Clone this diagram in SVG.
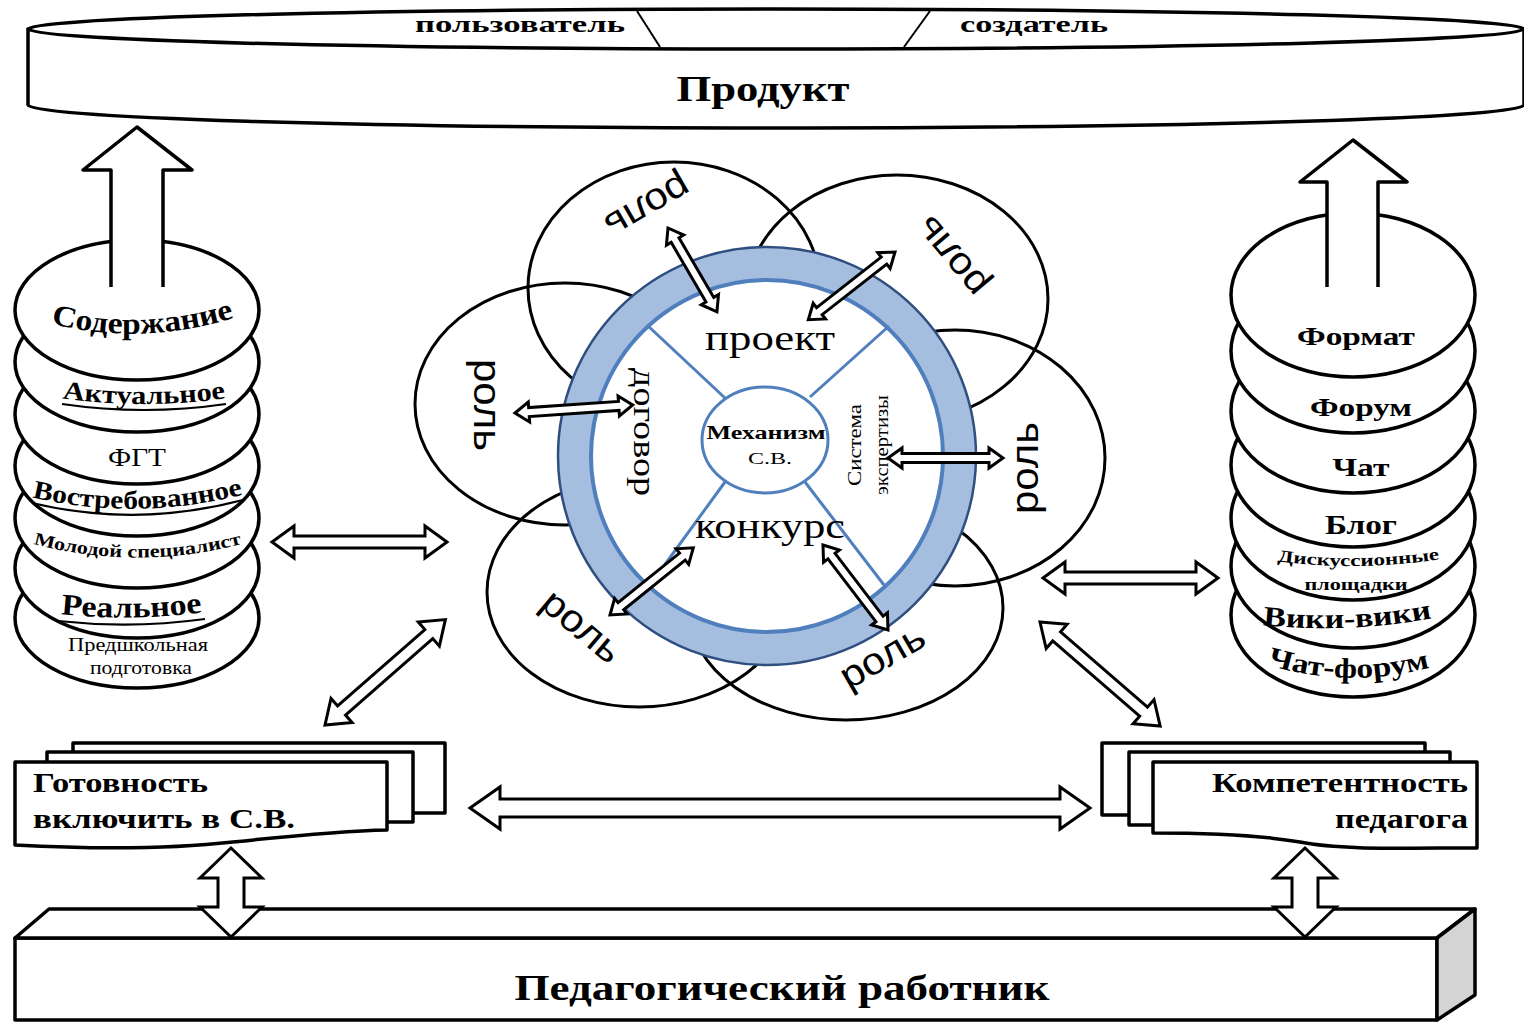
<svg xmlns="http://www.w3.org/2000/svg" width="1524" height="1027" viewBox="0 0 1524 1027">
<defs>
<style>
.ol{fill:#fff;stroke:#000;stroke-width:3.5;stroke-linejoin:round}
.pet{fill:none;stroke:#000;stroke-width:3}
.arr{fill:#fff;stroke:#000;stroke-width:3;stroke-linejoin:miter}
.ln{fill:none;stroke:#000;stroke-width:2}
.ul{fill:none;stroke:#000;stroke-width:2.2}
.sb{font-family:"Liberation Serif","Times New Roman",serif;font-weight:bold;fill:#000}
.sr{font-family:"Liberation Serif","Times New Roman",serif;fill:#000}
.ss{font-family:"Liberation Sans",Arial,sans-serif;fill:#000}
.spk{stroke:#4f7fbd;stroke-width:3;fill:none}
</style>
<path id="l0" d="M45,322 Q140,348 240,316"/>
<path id="l1" d="M60,398 Q144,410 228,398"/>
<path id="l3" d="M30,497 Q137,522 245,494"/>
<path id="l4" d="M30,543 Q137,572 245,543"/>
<path id="l5" d="M58,614 Q132,622 205,612"/>
<path id="r4" d="M1276,561 Q1358,572 1441,559"/>
<path id="r6" d="M1262,625 Q1347,634 1433,618"/>
<path id="r7" d="M1265,664 Q1348,690 1432,667"/>
</defs>
<rect width="1524" height="1027" fill="#fff"/>

<g id="product">
<path class="ol" d="M28,29 V105 A748,23 0 0 0 1524,105 V29 Z"/>
<ellipse class="ol" cx="776" cy="29" rx="748" ry="20"/>
<line class="ln" x1="637" y1="11" x2="660" y2="47"/>
<line class="ln" x1="930" y1="11" x2="904" y2="47"/>
<text class="sb" x="520" y="32" font-size="24" text-anchor="middle" textLength="210" lengthAdjust="spacingAndGlyphs">пользователь</text>
<text class="sb" x="1034" y="32" font-size="24" text-anchor="middle" textLength="148" lengthAdjust="spacingAndGlyphs">создатель</text>
<text class="sb" x="763" y="101" font-size="36" text-anchor="middle" textLength="173" lengthAdjust="spacingAndGlyphs">Продукт</text>
</g>

<g id="content-stack">
<ellipse class="ol" cx="137" cy="618" rx="122" ry="70"/>
<ellipse class="ol" cx="137" cy="568" rx="122" ry="70"/>
<ellipse class="ol" cx="137" cy="518" rx="122" ry="70"/>
<ellipse class="ol" cx="137" cy="466" rx="122" ry="70"/>
<ellipse class="ol" cx="137" cy="414" rx="122" ry="70"/>
<ellipse class="ol" cx="137" cy="362" rx="122" ry="70"/>
<ellipse class="ol" cx="137" cy="310" rx="122" ry="70"/>
<path class="ol" d="M111,287 V170 H83 L137,127 L192,170 H163 V287"/>
<text class="sb" font-size="30"><textPath href="#l0" startOffset="50%" text-anchor="middle" textLength="186" lengthAdjust="spacingAndGlyphs">Содержание</textPath></text>
<text class="sb" font-size="26"><textPath href="#l1" startOffset="50%" text-anchor="middle" textLength="164" lengthAdjust="spacingAndGlyphs">Актуальное</textPath></text>
<path class="ul" d="M62,404 Q144,416 226,404"/>
<text class="sr" x="137" y="466" font-size="26" text-anchor="middle" textLength="58" lengthAdjust="spacingAndGlyphs">ФГТ</text>
<text class="sb" font-size="26"><textPath href="#l3" startOffset="50%" text-anchor="middle" textLength="213" lengthAdjust="spacingAndGlyphs">Востребованное</textPath></text>
<path class="ul" d="M32,503 Q137,528 243,500"/>
<text class="sb" font-size="18"><textPath href="#l4" startOffset="50%" text-anchor="middle" textLength="211" lengthAdjust="spacingAndGlyphs">Молодой специалист</textPath></text>
<text class="sb" font-size="30"><textPath href="#l5" startOffset="50%" text-anchor="middle" textLength="142" lengthAdjust="spacingAndGlyphs">Реальное</textPath></text>
<path class="ul" d="M58,621 Q132,629 205,619"/>
<text class="sr" x="138" y="651" font-size="19" text-anchor="middle" textLength="140" lengthAdjust="spacingAndGlyphs">Предшкольная</text>
<text class="sr" x="141" y="674" font-size="19" text-anchor="middle" textLength="102" lengthAdjust="spacingAndGlyphs">подготовка</text>
</g>

<g id="format-stack">
<ellipse class="ol" cx="1353" cy="615" rx="122" ry="82"/>
<ellipse class="ol" cx="1353" cy="566" rx="122" ry="82"/>
<ellipse class="ol" cx="1353" cy="518" rx="122" ry="82"/>
<ellipse class="ol" cx="1353" cy="465" rx="122" ry="82"/>
<ellipse class="ol" cx="1353" cy="411" rx="122" ry="82"/>
<ellipse class="ol" cx="1353" cy="351" rx="122" ry="82"/>
<ellipse class="ol" cx="1353" cy="295" rx="122" ry="82"/>
<path class="ol" d="M1327,287 V182 H1300 L1353,140 L1407,182 H1378 V287"/>
<text class="sb" x="1356" y="345" font-size="26" text-anchor="middle" textLength="118" lengthAdjust="spacingAndGlyphs">Формат</text>
<text class="sb" x="1361" y="416" font-size="26" text-anchor="middle" textLength="102" lengthAdjust="spacingAndGlyphs">Форум</text>
<text class="sb" x="1361" y="476" font-size="26" text-anchor="middle" textLength="57" lengthAdjust="spacingAndGlyphs">Чат</text>
<text class="sb" x="1361" y="534" font-size="28" text-anchor="middle" textLength="72" lengthAdjust="spacingAndGlyphs">Блог</text>
<text class="sb" font-size="17"><textPath href="#r4" startOffset="50%" text-anchor="middle" textLength="163" lengthAdjust="spacingAndGlyphs">Дискуссионные</textPath></text>
<text class="sb" x="1356" y="590" font-size="17" text-anchor="middle" textLength="103" lengthAdjust="spacingAndGlyphs">площадки</text>
<text class="sb" font-size="28"><textPath href="#r6" startOffset="50%" text-anchor="middle" textLength="170" lengthAdjust="spacingAndGlyphs">Вики-вики</textPath></text>
<text class="sb" font-size="28"><textPath href="#r7" startOffset="50%" text-anchor="middle" textLength="165" lengthAdjust="spacingAndGlyphs">Чат-форум</textPath></text>
</g>

<g id="roles">
<ellipse class="pet" cx="674" cy="288" rx="146" ry="126"/>
<ellipse class="pet" cx="897" cy="299" rx="151" ry="124"/>
<ellipse class="pet" cx="565" cy="404" rx="150" ry="121"/>
<ellipse class="pet" cx="955" cy="458" rx="150" ry="128"/>
<ellipse class="pet" cx="639" cy="592" rx="152" ry="115"/>
<ellipse class="pet" cx="846" cy="608" rx="157" ry="112"/>
<g class="ss" font-size="38" text-anchor="middle" dominant-baseline="central">
<text transform="translate(648,207) rotate(150)" textLength="92" lengthAdjust="spacingAndGlyphs">роль</text>
<text transform="translate(951,257) rotate(-130)" textLength="92" lengthAdjust="spacingAndGlyphs">роль</text>
<text transform="translate(487,405) rotate(90)" textLength="92" lengthAdjust="spacingAndGlyphs">роль</text>
<text transform="translate(1025,468) rotate(-90)" textLength="92" lengthAdjust="spacingAndGlyphs">роль</text>
<text transform="translate(582,626) rotate(40)" textLength="92" lengthAdjust="spacingAndGlyphs">роль</text>
<text transform="translate(882,656) rotate(-30)" textLength="92" lengthAdjust="spacingAndGlyphs">роль</text>
</g>
</g>

<g id="mechanism">
<circle cx="767" cy="456" r="209" fill="#a5bddf" stroke="#2f4f80" stroke-width="2.5"/>
<circle cx="767" cy="456" r="176" fill="#fff" stroke="#4f7fbd" stroke-width="4"/>
<line class="spk" x1="647" y1="325" x2="725" y2="398"/>
<line class="spk" x1="889" y1="326" x2="810" y2="397"/>
<line class="spk" x1="650" y1="585" x2="725" y2="482"/>
<line class="spk" x1="884" y1="585" x2="805" y2="482"/>
<ellipse cx="765" cy="440" rx="63" ry="53" fill="#fff" stroke="#4f7fbd" stroke-width="3"/>
<text class="sb" x="766" y="439" font-size="18" text-anchor="middle" textLength="119" lengthAdjust="spacingAndGlyphs">Механизм</text>
<text class="sr" x="770" y="464" font-size="17" text-anchor="middle" textLength="44" lengthAdjust="spacingAndGlyphs">С.В.</text>
<text class="sr" x="770" y="350" font-size="36" text-anchor="middle" textLength="130" lengthAdjust="spacingAndGlyphs">проект</text>
<text class="sr" x="770" y="538" font-size="36" text-anchor="middle" textLength="150" lengthAdjust="spacingAndGlyphs">конкурс</text>
<text class="sr" transform="translate(634,432) rotate(90)" font-size="32" text-anchor="middle" textLength="128" lengthAdjust="spacingAndGlyphs">договор</text>
<text class="sr" transform="translate(861,445) rotate(-90)" font-size="18" text-anchor="middle" textLength="82" lengthAdjust="spacingAndGlyphs">Система</text>
<text class="sr" transform="translate(888,445) rotate(-90)" font-size="18" text-anchor="middle" textLength="100" lengthAdjust="spacingAndGlyphs">экспертизы</text>
</g>

<g id="readiness">
<rect class="ol" x="73" y="743" width="372" height="70"/>
<rect class="ol" x="47" y="752" width="366" height="70"/>
<path class="ol" d="M15,762 H387 V830 C340,831 290,836 233,842 C170,849 90,849 15,845 Z"/>
<text class="sb" x="33" y="792" font-size="28" textLength="175" lengthAdjust="spacingAndGlyphs">Готовность</text>
<text class="sb" x="33" y="828" font-size="28" textLength="262" lengthAdjust="spacingAndGlyphs">включить в С.В.</text>
</g>

<g id="competence">
<rect class="ol" x="1102" y="743" width="323" height="72"/>
<rect class="ol" x="1129" y="752" width="321" height="73"/>
<path class="ol" d="M1153,762 H1477 V848 C1400,848 1340,850 1300,842 C1260,835 1200,833 1153,833 Z"/>
<text class="sb" x="1468" y="792" font-size="28" text-anchor="end" textLength="256" lengthAdjust="spacingAndGlyphs">Компетентность</text>
<text class="sb" x="1468" y="828" font-size="28" text-anchor="end" textLength="133" lengthAdjust="spacingAndGlyphs">педагога</text>
</g>

<g id="teacher">
<rect class="ol" x="15" y="938" width="1422" height="82"/>
<path class="ol" d="M15,938 L49,909 H1475 L1437,938 Z"/>
<path d="M1437,938 L1475,909 V995 L1437,1020 Z" fill="#d4d4d4" stroke="#000" stroke-width="3.5" stroke-linejoin="round"/>
<text class="sb" x="782" y="1000" font-size="36" text-anchor="middle" textLength="535" lengthAdjust="spacingAndGlyphs">Педагогический работник</text>
</g>

<g id="connectors">
<path class="arr" transform="translate(668,228) rotate(59.7)" d="M0,0 L14,-10 L14,-4.5 L83,-4.5 L83,-10 L97,0 L83,10 L83,4.5 L14,4.5 L14,10 Z"/>
<path class="arr" transform="translate(895,252) rotate(142)" d="M0,0 L14,-10 L14,-4.5 L96,-4.5 L96,-10 L110,0 L96,10 L96,4.5 L14,4.5 L14,10 Z"/>
<path class="arr" transform="translate(515,413) rotate(-3.9)" d="M0,0 L14,-10 L14,-4.5 L104,-4.5 L104,-10 L118,0 L104,10 L104,4.5 L14,4.5 L14,10 Z"/>
<path class="arr" transform="translate(888,458)" d="M0,0 L14,-10 L14,-4.5 L101,-4.5 L101,-10 L115,0 L101,10 L101,4.5 L14,4.5 L14,10 Z"/>
<path class="arr" transform="translate(610,615) rotate(-38.9)" d="M0,0 L14,-10 L14,-4.5 L93,-4.5 L93,-10 L107,0 L93,10 L93,4.5 L14,4.5 L14,10 Z"/>
<path class="arr" transform="translate(823,545) rotate(52.6)" d="M0,0 L14,-10 L14,-4.5 L93,-4.5 L93,-10 L107,0 L93,10 L93,4.5 L14,4.5 L14,10 Z"/>
<path class="arr" transform="translate(272,542)" d="M0,0 L22,-16 L22,-6 L153,-6 L153,-16 L175,0 L153,16 L153,6 L22,6 L22,16 Z"/>
<path class="arr" transform="translate(1043,578)" d="M0,0 L22,-16 L22,-6 L153,-6 L153,-16 L175,0 L153,16 L153,6 L22,6 L22,16 Z"/>
<path class="arr" transform="translate(325,725) rotate(-41.2)" d="M0,0 L22,-16 L22,-6 L138,-6 L138,-16 L160,0 L138,16 L138,6 L22,6 L22,16 Z"/>
<path class="arr" transform="translate(1040,622) rotate(40.9)" d="M0,0 L22,-16 L22,-6 L137,-6 L137,-16 L159,0 L137,16 L137,6 L22,6 L22,16 Z"/>
<path class="arr" transform="translate(470,808)" d="M0,0 L30,-21 L30,-9 L590,-9 L590,-21 L620,0 L590,21 L590,9 L30,9 L30,21 Z"/>
<path class="arr" transform="translate(231,848) rotate(90)" d="M0,0 L30,-31 L30,-13 L59,-13 L59,-31 L89,0 L59,31 L59,13 L30,13 L30,31 Z"/>
<path class="arr" transform="translate(1305,848) rotate(90)" d="M0,0 L30,-31 L30,-13 L59,-13 L59,-31 L89,0 L59,31 L59,13 L30,13 L30,31 Z"/>
</g>
</svg>
